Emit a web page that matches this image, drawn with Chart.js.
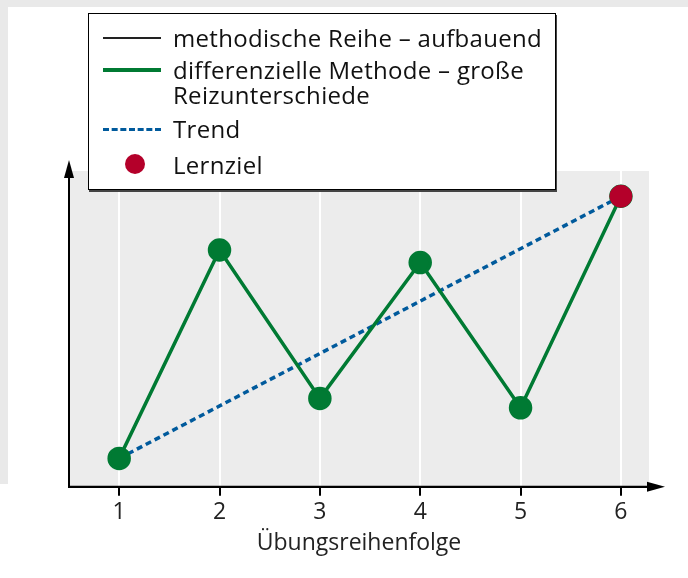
<!DOCTYPE html>
<html>
<head>
<meta charset="utf-8">
<script src="https://cdn.jsdelivr.net/npm/chart.js@4/dist/chart.umd.min.js"></script>
<style>
  html, body { margin: 0; padding: 0; background: #fff; }
  #wrap { position: relative; width: 688px; height: 578px; overflow: hidden; }
  #frameTop { position: absolute; left: 0; top: 0; width: 688px; height: 7px; background: #e9e9e9; }
  #frameLeft { position: absolute; left: 0; top: 0; width: 8px; height: 484px; background: #e9e9e9; }
  #c { position: absolute; left: 0; top: 0; }
  #legend {
    position: absolute; left: 88px; top: 13px; width: 466px; height: 175px;
    background: #fff; border: 1.5px solid #000; box-shadow: 1px 2px 0 #444;
    font-family: 'Open Sans', 'Noto Sans', sans-serif; font-size: 24px; letter-spacing: 0.3px; color: #111;
  }
  .sw { position: absolute; left: 14px; width: 58px; }
  .lbl { position: absolute; left: 84px; line-height: 25px; white-space: nowrap; }
</style>
</head>
<body>
<div id="wrap">
  <div id="frameTop"></div>
  <div id="frameLeft"></div>
  <canvas id="c" width="688" height="578"></canvas>
  <div id="legend"></div>
</div>
<script>
// ---- data ----
const categories = ['1', '2', '3', '4', '5', '6'];
const xAxisTitle = 'Übungsreihenfolge';
const seriesNames = [
  'methodische Reihe – aufbauend',
  'differenzielle Methode – große\nReizunterschiede',
  'Trend',
  'Lernziel'
];
const methodischeReihe = [null, null, null, null, null, null];
const differenzielleMethode = [0.9, 7.5, 2.8, 7.1, 2.5, 9.2];
const trend = [0.9, null, null, null, null, 9.2];
const lernziel = [null, null, null, null, null, 9.2];

const toXY = arr => categories.map((c, i) => ({ x: Number(c), y: arr[i] }));

const GREEN = '#007a33', BLUE = '#005a9c', RED = '#b4002a';

const arrowPlugin = {
  id: 'axisArrows',
  beforeDraw(chart) {
    const { ctx, chartArea: a } = chart;
    ctx.save();
    ctx.fillStyle = '#ececec';
    ctx.fillRect(a.left, a.top, a.right - a.left, a.bottom - a.top);
    ctx.restore();
  },
  afterDraw(chart) {
    const { ctx, chartArea: a } = chart;
    ctx.save();
    ctx.strokeStyle = '#000'; ctx.fillStyle = '#000'; ctx.lineWidth = 2;
    ctx.beginPath(); ctx.moveTo(a.left, a.bottom); ctx.lineTo(a.left, 172); ctx.stroke();
    ctx.beginPath(); ctx.moveTo(a.left, 160); ctx.lineTo(a.left - 5, 178); ctx.lineTo(a.left + 5, 178); ctx.closePath(); ctx.fill();
    ctx.beginPath(); ctx.moveTo(a.left, a.bottom); ctx.lineTo(650, a.bottom); ctx.stroke();
    ctx.beginPath(); ctx.moveTo(665, a.bottom); ctx.lineTo(647, a.bottom - 5); ctx.lineTo(647, a.bottom + 5); ctx.closePath(); ctx.fill();
    ctx.restore();
  }
};

const datasets = [
  { label: seriesNames[3], data: toXY(lernziel), order: 0, showLine: false,
    pointRadius: 11, pointBackgroundColor: RED, pointBorderColor: RED, borderColor: RED, backgroundColor: RED },
  { label: seriesNames[1], data: toXY(differenzielleMethode), order: 1,
    borderColor: GREEN, backgroundColor: GREEN, borderWidth: 3.5,
    pointRadius: 10, pointBackgroundColor: GREEN, pointBorderColor: GREEN },
  { label: seriesNames[2], data: toXY(trend), order: 2, spanGaps: true,
    borderColor: BLUE, borderWidth: 3.5, borderDash: [6, 4], pointRadius: 0 },
  { label: seriesNames[0], data: toXY(methodischeReihe), order: 3,
    borderColor: '#222', borderWidth: 1.5, pointRadius: 0 }
];

const chart = new Chart(document.getElementById('c'), {
  type: 'line',
  data: { datasets },
  options: {
    responsive: false,
    animation: false,
    layout: { padding: { left: 69, right: 39, top: 171, bottom: 21 } },
    plugins: { legend: { display: false }, tooltip: { enabled: false } },
    scales: {
      x: {
        type: 'linear', min: 0.5, max: 6.28,
        afterBuildTicks: s => { s.ticks = categories.map(c => ({ value: Number(c) })); },
        ticks: { callback: v => categories.find(c => Number(c) === v) || '',
          color: '#222', padding: 3, font: { family: "'Open Sans', sans-serif", size: 23 } },
        grid: { color: '#ffffff', lineWidth: 2, tickColor: '#000', tickLength: 9, tickWidth: 2 },
        border: { color: '#000', width: 2 },
        title: { display: true, text: xAxisTitle, color: '#222', padding: { top: 0, bottom: 0 },
          font: { family: "'Open Sans', sans-serif", size: 23 } }
      },
      y: {
        min: 0, max: 10,
        ticks: { display: false },
        grid: { display: false, drawTicks: false },
        border: { color: '#000', width: 2 }
      }
    }
  },
  plugins: [arrowPlugin]
});

// ---- HTML legend built from the datasets ----
const legend = document.getElementById('legend');
const rows = [
  { ds: datasets[3], y: 24 },
  { ds: datasets[1], y: 56 },
  { ds: datasets[2], y: 115 },
  { ds: datasets[0], y: 151 }
];
rows.forEach(({ ds, y }) => {
  const sw = document.createElement('div');
  sw.className = 'sw';
  if (ds.showLine === false) {
    const r = ds.pointRadius;
    Object.assign(sw.style, { left: (47 - r) + 'px', top: (y - r) + 'px', width: 2 * r - 2 + 'px', height: 2 * r - 2 + 'px',
      borderRadius: '50%', background: ds.pointBackgroundColor });
  } else if (ds.borderDash) {
    Object.assign(sw.style, { top: (y - 1.5) + 'px', height: '0px', borderTop: ds.borderWidth - 0.5 + 'px dashed ' + ds.borderColor });
  } else {
    Object.assign(sw.style, { top: (y - ds.borderWidth / 2) + 'px', height: ds.borderWidth + 'px', background: ds.borderColor });
  }
  legend.appendChild(sw);
  const lbl = document.createElement('div');
  lbl.className = 'lbl';
  lbl.style.top = (y - 13) + 'px';
  lbl.innerHTML = ds.label.split('\n').join('<br>');
  legend.appendChild(lbl);
});
</script>
</body>
</html>
